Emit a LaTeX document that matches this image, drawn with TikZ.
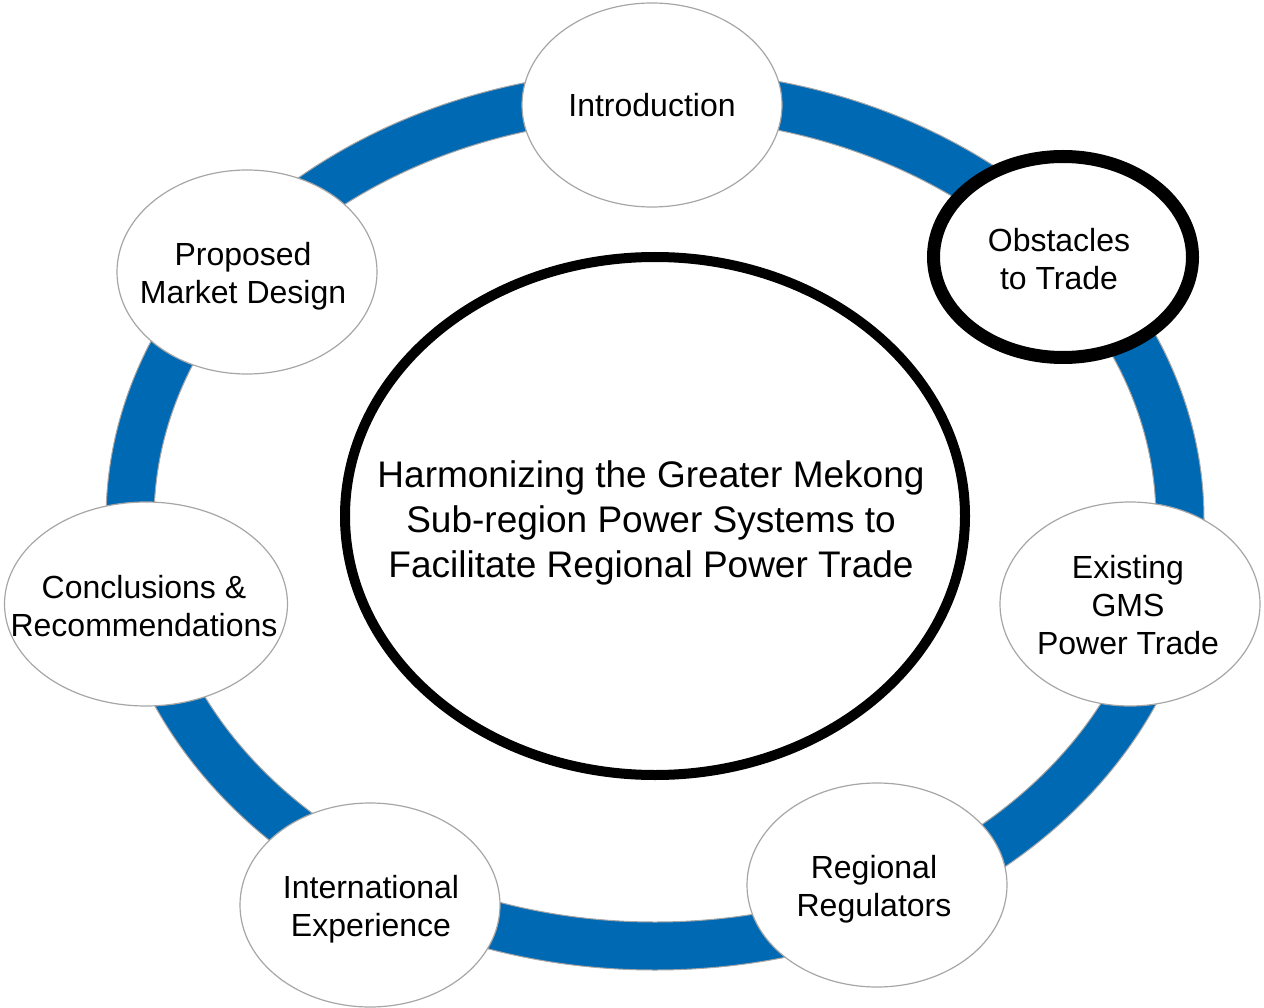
\documentclass[tikz,border=0pt]{standalone}
\usepackage{fontspec}
\setmainfont{Liberation Sans}
\usetikzlibrary{shapes.geometric}

\definecolor{ringblue}{HTML}{0069B4}
\definecolor{edgegray}{HTML}{A6A6A6}

\begin{document}
\begin{tikzpicture}[x=1pt,y=-1pt]

    % Define styles
    \tikzstyle{topic} = [ellipse, draw=edgegray, line width=1.2pt, fill=white, inner sep=0pt, minimum width=260pt, minimum height=204pt]
    \tikzstyle{topictext} = [align=center, font=\fontsize{32}{38}\selectfont]
    \tikzstyle{focus} = [topic, draw=black, line width=13pt, minimum width=259pt, minimum height=201pt]
    \tikzstyle{hub} = [ellipse, draw=black, line width=10pt, fill=white, inner sep=0pt, minimum width=620pt, minimum height=518pt]

    \useasboundingbox (0,0) rectangle (1264,1008);

    % Blue ring
    \draw[ringblue, line width=48pt] (655,520) ellipse [x radius=525pt, y radius=426pt];
    \draw[edgegray, line width=1pt] (655,520) ellipse [x radius=549pt, y radius=450pt];
    \draw[edgegray, line width=1pt] (655,520) ellipse [x radius=501pt, y radius=402pt];

    % Central theme
    \node[hub, label={[align=center, font=\fontsize{37}{45}\selectfont, xshift=-4pt, yshift=-7pt]center:Harmonizing the Greater Mekong\\Sub-region Power Systems to\\Facilitate Regional Power Trade}] (theme) at (655,516) {};

    % Topics around the ring
    \node[topic, label={[topictext]center:Introduction}] (intro) at (652,105) {};
    \node[focus, label={[topictext, xshift=-4pt, yshift=-2pt]center:Obstacles\\to Trade}] (obstacles) at (1063,257) {};
    \node[topic, label={[topictext, xshift=-2pt, yshift=-1pt]center:Existing\\GMS\\Power Trade}] (existing) at (1130,604) {};
    \node[topic, label={[topictext, xshift=-3pt, yshift=-4pt]center:Regional\\Regulators}] (regulators) at (877,885) {};
    \node[topic, label={[topictext, xshift=1pt, yshift=-4pt]center:International\\Experience}] (international) at (370,905) {};
    \node[topic, minimum width=283pt, label={[topictext, xshift=-2pt, yshift=-2pt]center:Conclusions \&\\Recommendations}] (conclusions) at (146,604) {};
    \node[topic, label={[topictext, xshift=-4pt, yshift=-4pt]center:Proposed\\Market Design}] (proposed) at (247,272) {};

\end{tikzpicture}
\end{document}
